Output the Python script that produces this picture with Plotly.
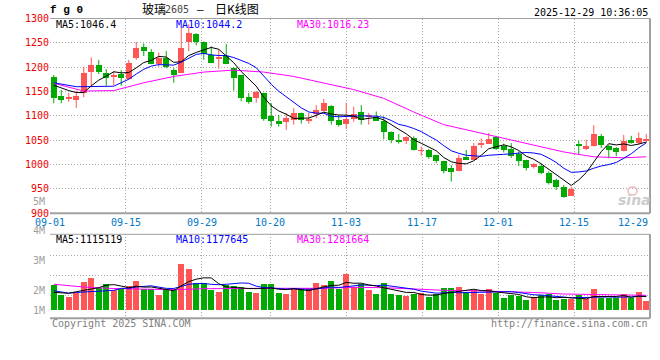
import plotly.graph_objects as go
import pandas as pd

W, H = 660, 360
MONO = "DejaVu Sans Mono"
CJK = "Noto Sans CJK SC"
RED = "#ff5555"
GREEN = "#00aa00"
GRID = "#a8a8a8"
BORDER = "#a0a0a0"

# ---------------- data ----------------
holidays = ["2025-10-01", "2025-10-02", "2025-10-03", "2025-10-06", "2025-10-07", "2025-10-08"]
days = [d for d in pd.bdate_range("2025-09-01", "2025-12-29") if d.strftime("%Y-%m-%d") not in holidays]
dates = [d.strftime("%m-%d") for d in days]
date_labels = ["09-01", "09-15", "09-29", "10-20", "11-03", "11-17", "12-01", "12-15", "12-29"]

opens = [1181, 1141, 1136, 1133, 1149, 1192, 1205, 1190, 1181, 1188,
         1177, 1220, 1242, 1232, 1208, 1220, 1196, 1190, 1252, 1270,
         1252, 1226, 1219, 1224, 1200, 1184, 1139, 1137, 1148, 1101,
         1090, 1088, 1093, 1107, 1090, 1104, 1112, 1122, 1092, 1084,
         1095, 1110, 1099, 1099, 1090, 1068, 1051, 1049, 1055, 1029,
         1032, 1020, 1008, 994, 988, 1016, 1010, 1043, 1043, 1058,
         1039, 1034, 1023, 1010, 996, 999, 984, 969, 956, 937,
         1042, 1034, 1039, 1059, 1039, 1035, 1029, 1051, 1045, 1051]
highs = [1184, 1153, 1147, 1152, 1201, 1220, 1215, 1196, 1192, 1194,
         1215, 1252, 1249, 1237, 1230, 1233, 1198, 1280, 1288, 1270,
         1253, 1243, 1236, 1248, 1200, 1184, 1147, 1151, 1148, 1126,
         1102, 1106, 1116, 1107, 1106, 1122, 1135, 1122, 1102, 1127,
         1119, 1122, 1106, 1109, 1099, 1068, 1063, 1058, 1058, 1037,
         1032, 1020, 1008, 999, 1020, 1030, 1044, 1054, 1065, 1058,
         1043, 1044, 1027, 1010, 1003, 1002, 986, 971, 958, 954,
         1049, 1051, 1081, 1063, 1041, 1036, 1061, 1059, 1066, 1063]
lows = [1126, 1126, 1129, 1116, 1138, 1160, 1186, 1162, 1163, 1162,
        1174, 1215, 1223, 1206, 1201, 1198, 1168, 1188, 1233, 1245,
        1215, 1210, 1197, 1207, 1152, 1130, 1125, 1127, 1090, 1078,
        1078, 1071, 1082, 1084, 1084, 1095, 1109, 1082, 1078, 1073,
        1088, 1082, 1082, 1090, 1052, 1044, 1043, 1042, 1029, 1018,
        1012, 1003, 982, 965, 986, 1010, 1010, 1034, 1043, 1030,
        1025, 1014, 997, 988, 992, 980, 959, 948, 932, 937,
        1021, 1030, 1037, 1034, 1013, 1017, 1027, 1043, 1041, 1045]
closes = [1138, 1133, 1138, 1141, 1190, 1206, 1192, 1179, 1186, 1179,
          1209, 1240, 1234, 1208, 1220, 1202, 1186, 1240, 1272, 1252,
          1229, 1210, 1221, 1207, 1179, 1138, 1130, 1151, 1094, 1090,
          1086, 1096, 1108, 1093, 1095, 1114, 1128, 1090, 1082, 1094,
          1105, 1093, 1103, 1090, 1068, 1052, 1049, 1057, 1030, 1031,
          1016, 1008, 988, 986, 1014, 1012, 1039, 1045, 1053, 1034,
          1032, 1018, 1008, 994, 1003, 984, 963, 955, 934, 950,
          1040, 1039, 1063, 1041, 1032, 1027, 1049, 1047, 1056, 1053]

# volume in millions (lots)
volumes = [1.98, 1.24, 1.08, 1.38, 2.27, 2.58, 1.79, 2.06, 1.61, 1.69,
           1.95, 2.35, 1.72, 1.66, 1.24, 1.58, 1.69, 3.69, 3.30, 2.19,
           2.13, 1.64, 1.42, 2.03, 1.95, 1.87, 1.48, 1.40, 2.11, 2.11,
           1.40, 1.32, 1.74, 1.72, 1.74, 2.19, 2.03, 2.35, 1.72, 2.90,
           1.85, 2.06, 1.64, 1.32, 2.19, 1.32, 1.24, 1.16, 1.32, 1.38,
           1.06, 1.26, 1.79, 1.79, 1.87, 1.42, 1.61, 1.26, 1.72, 1.40,
           1.00, 1.19, 1.11, 0.79, 1.06, 1.24, 1.26, 0.79, 0.92, 0.87,
           1.19, 0.92, 1.72, 0.98, 0.98, 1.00, 1.32, 1.00, 1.48, 0.77]

# moving-average values visible before enough in-window history exists
ma5_lead = [1163, 1157, 1152, 1148]
ma10_lead = [1168, 1165, 1162, 1160, 1160, 1160, 1160, 1160, 1161]
ma30_idx = [0, 4, 8, 12, 16, 20, 24, 28, 32, 36, 40, 44, 48, 52, 56, 60, 64, 68, 72, 76, 79]
ma30_val = [1167, 1151, 1152, 1168, 1181, 1190, 1194, 1190, 1181, 1168, 1154,
            1136, 1108, 1082, 1068, 1055, 1040, 1026, 1016, 1014, 1016]
vma5_lead = [1.45, 1.40, 1.38, 1.50]
vma10_lead = [1.58, 1.48, 1.38, 1.44, 1.48, 1.53, 1.56, 1.58, 1.61]
vma30_val = [2.09, 1.87, 1.75, 1.69, 1.66, 1.74, 1.77, 1.77, 1.77, 1.77, 1.85,
             1.82, 1.72, 1.61, 1.58, 1.52, 1.44, 1.32, 1.26, 1.24, 1.22]

price_ma_text = ["MA5:1046.4", "MA10:1044.2", "MA30:1016.23"]
vol_ma_text = ["MA5:1115119", "MA10:1177645", "MA30:1281664"]
price_ticks = [900, 950, 1000, 1050, 1100, 1150, 1200, 1250, 1300]
vol_labels = ["5M", "4M", "3M", "2M", "1M"]


def rolling(values, n, lead):
    out = list(lead)
    for i in range(len(lead), len(values)):
        out.append(sum(values[i - n + 1:i + 1]) / n)
    return out


n = len(closes)
xs = list(range(n))
colors = [RED if c >= o else GREEN for o, c in zip(opens, closes)]
body_base = [min(o, c) for o, c in zip(opens, closes)]
body_h = [max(abs(c - o), 1.6) for o, c in zip(opens, closes)]

ma5 = rolling(closes, 5, ma5_lead)
ma10 = rolling(closes, 10, ma10_lead)
vma5 = rolling(volumes, 5, vma5_lead)
vma10 = rolling(volumes, 10, vma10_lead)

# ---------------- geometry (pixels) ----------------
PX_L, PX_R = 50, 650
P_TOP, P_BOT = 18.5, 213.3
V_TOP, V_BOT = 234.3, 318.3
V_BASE = 310.7          # pixel row of zero volume
V_SCALE = 12.65         # pixels per million


def fx(px):
    return px / W


def fy(py):
    return 1 - py / H


grid_x = [dates.index(d) * n / (n - 1) - 0.5 for d in date_labels]
vol_grid_px = [255.3, 275.3, 295.3]
vol_grid = [(V_BASE - p) / V_SCALE for p in vol_grid_px]

fig = go.Figure()

# wicks
for col in (RED, GREEN):
    wx, wy = [], []
    for i in xs:
        if colors[i] == col:
            wx += [i, i, None]
            wy += [lows[i], highs[i], None]
    fig.add_trace(go.Scatter(x=wx, y=wy, mode="lines", line=dict(color=col, width=1),
                             xaxis="x", yaxis="y", hoverinfo="skip"))
# bodies
fig.add_trace(go.Bar(x=xs, y=body_h, base=body_base, width=0.8,
                     marker=dict(color=colors, line=dict(width=0)), xaxis="x", yaxis="y"))
# price MAs
fig.add_trace(go.Scatter(x=ma30_idx, y=ma30_val, mode="lines", line=dict(color="#ff00ff", width=1),
                         xaxis="x", yaxis="y"))
fig.add_trace(go.Scatter(x=xs, y=ma10, mode="lines", line=dict(color="#0000ff", width=1),
                         xaxis="x", yaxis="y"))
fig.add_trace(go.Scatter(x=xs, y=ma5, mode="lines", line=dict(color="#000000", width=1),
                         xaxis="x", yaxis="y"))

# volume
fig.add_trace(go.Bar(x=xs, y=volumes, width=0.8, marker=dict(color=colors, line=dict(width=0)),
                     xaxis="x2", yaxis="y2"))
fig.add_trace(go.Scatter(x=ma30_idx, y=vma30_val, mode="lines", line=dict(color="#ff00ff", width=1),
                         xaxis="x2", yaxis="y2"))
fig.add_trace(go.Scatter(x=xs, y=vma10, mode="lines", line=dict(color="#0000ff", width=1),
                         xaxis="x2", yaxis="y2"))
fig.add_trace(go.Scatter(x=xs, y=vma5, mode="lines", line=dict(color="#000000", width=1),
                         xaxis="x2", yaxis="y2"))

dash = "1px,2px"
xcommon = dict(domain=[fx(PX_L), fx(PX_R)], range=[-0.5, n - 0.5], tickvals=grid_x,
               showticklabels=False, ticks="", showgrid=True, gridcolor=GRID, griddash=dash,
               gridwidth=1, zeroline=False, showline=False, fixedrange=True, automargin=False)
fig.update_layout(
    template="none",
    width=W, height=H, margin=dict(l=0, r=0, t=0, b=0, pad=0), autosize=False,
    paper_bgcolor="white", plot_bgcolor="white", showlegend=False, bargap=0,
    xaxis=dict(anchor="y", **xcommon),
    xaxis2=dict(anchor="y2", **xcommon),
    yaxis=dict(domain=[fy(P_BOT), fy(P_TOP)], range=[900, 1300], tickvals=price_ticks,
               ticks="", showgrid=True, gridcolor=GRID, griddash=dash, gridwidth=1,
               zeroline=False, showline=False, anchor="x", automargin=False, fixedrange=True,
               tickfont=dict(family=MONO, size=10, color="#ee0000")),
    yaxis2=dict(domain=[fy(V_BOT), fy(V_TOP)],
                range=[(V_BASE - V_BOT) / V_SCALE, (V_BASE - V_TOP) / V_SCALE],
                tickvals=vol_grid, showticklabels=False, ticks="", showgrid=True,
                gridcolor=GRID, griddash=dash, gridwidth=1, zeroline=False, showline=False,
                anchor="x2", automargin=False, fixedrange=True),
)

# panel borders (top, right, bottom solid; left is the dotted grid line)
shapes = []
for ya in ("y", "y2"):
    xr = "x domain" if ya == "y" else "x2 domain"
    yr = ya + " domain"
    shapes.append(dict(type="line", xref=xr, yref=yr, x0=0, x1=1, y0=1, y1=1,
                       line=dict(color=BORDER, width=1)))
    shapes.append(dict(type="line", xref=xr, yref=yr, x0=0, x1=1, y0=0, y1=0,
                       line=dict(color=BORDER, width=2)))
    shapes.append(dict(type="line", xref=xr, yref=yr, x0=1, x1=1, y0=0, y1=1,
                       line=dict(color=BORDER, width=2)))
# sina logo eye (decoration)
shapes.append(dict(type="circle", xref="paper", yref="paper",
                   x0=fx(628), x1=fx(637), y0=fy(195), y1=fy(187),
                   line=dict(color="#f0b8b8", width=1.5)))
fig.update_layout(shapes=shapes)

anns = []


def text(t, x, y, color="#000000", size=10, xanchor="left", family=MONO, xref="paper"):
    anns.append(dict(text=t, x=(x if xref != "paper" else fx(x)), y=fy(y), xref=xref, yref="paper",
                     xanchor=xanchor, yanchor="middle", showarrow=False,
                     font=dict(family=family, size=size, color=color)))


# header
text("<b>f g 0</b>", 48, 10, size=11, family="Liberation Mono")
text("玻璃", 140, 8.5, size=12, family=CJK)
text("2605", 162.5, 9, color="#444444", size=10, family=MONO)
text("—", 200, 9, size=11, family=MONO, xanchor="center")
text("日K线图", 212.5, 8.5, size=12, family=CJK)
text("2025-12-29 10:36:05", 649.5, 12.5, xanchor="right")

# MA legends
ma_cols = ["#000000", "#0000ff", "#ff00ff"]
ma_x = [54, 174, 295]
for t, c, x in zip(price_ma_text, ma_cols, ma_x):
    text(t, x, 24.5, color=c)
for t, c, x in zip(vol_ma_text, ma_cols, ma_x):
    text(t, x, 239, color=c)

# date labels
for d, gx in zip(date_labels, grid_x):
    if d == date_labels[-1]:
        text(d, 649.5, 222, color="#0078c8", xanchor="right")
    else:
        text(d, gx, 222, color="#0078c8", xanchor="center", xref="x")

# volume axis labels
for t, py in zip(vol_labels, [201, 230.7, 260.7, 290.7, 310.7]):
    text(t, 46.5, py, color="#a0a0a0", xanchor="right")

# footer
text("Copyright 2025 SINA.COM", 50, 323.5, color="#808080")
text("http://finance.sina.com.cn", 649.5, 323.5, color="#808080", xanchor="right")

# watermark
text("<b><i>sina</i></b>", 634, 200, color="#cccccc", size=14, xanchor="center", family="DejaVu Sans")

fig.update_layout(annotations=anns)
fig.write_html("out.html", config={"displayModeBar": False},
               post_script="document.body.style.margin='0';")
